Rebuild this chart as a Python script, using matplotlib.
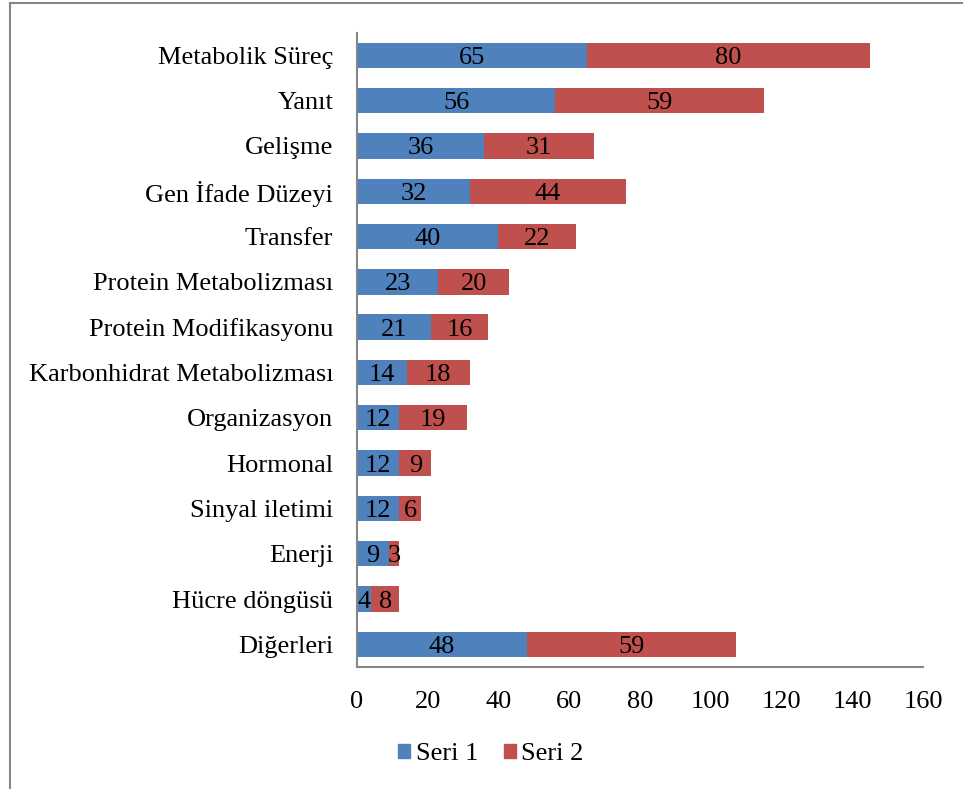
import matplotlib
matplotlib.use("Agg")
import matplotlib.pyplot as plt
from matplotlib.lines import Line2D
from matplotlib.patches import Patch
import numpy as np

plt.rcParams["font.family"] = ["Liberation Serif", "DejaVu Serif"]

categories = [
    "Metabolik Süreç", "Yanıt", "Gelişme", "Gen İfade Düzeyi", "Transfer",
    "Protein Metabolizması", "Protein Modifikasyonu",
    "Karbonhidrat Metabolizması", "Organizasyon", "Hormonal",
    "Sinyal iletimi", "Enerji", "Hücre döngüsü", "Diğerleri",
]
seri1 = [65, 56, 36, 32, 40, 23, 21, 14, 12, 12, 12, 9, 4, 48]
seri2 = [80, 59, 31, 44, 22, 20, 16, 18, 19, 9, 6, 3, 8, 59]
series_names = ["Seri 1", "Seri 2"]
xticks = [0, 20, 40, 60, 80, 100, 120, 140, 160]

BLUE = "#4F81BD"
RED = "#C0504D"
GRAY = "#868686"
FS = 19

fig = plt.figure(figsize=(9.63, 7.89), dpi=100)
ax = fig.add_axes([0.3707, 0.1546, 0.5878, 0.804])

y = np.arange(len(categories))
s1 = np.array(seri1)
s2 = np.array(seri2)
h = 0.56
ax.barh(y, s1, height=h, color=BLUE, edgecolor="none")
ax.barh(y, s2, left=s1, height=h, color=RED, edgecolor="none")

# value labels centred in each segment
for yi, a, b in zip(y, s1, s2):
    ax.text(a / 2, yi, str(a), ha="center", va="center_baseline",
            fontsize=FS, color="black")
    ax.text(a + b / 2, yi, str(b), ha="center", va="center_baseline",
            fontsize=FS, color="black")

ax.set_ylim(len(categories) - 0.5, -0.5)
ax.set_xlim(0, 160)
ax.set_yticks(y)
ax.set_yticklabels(categories, fontsize=FS)
ax.set_xticks(xticks)
ax.set_xticklabels([str(t) for t in xticks], fontsize=FS)
ax.tick_params(axis="both", length=0)
ax.tick_params(axis="y", pad=17)
ax.tick_params(axis="x", pad=17)
for side in ("top", "right"):
    ax.spines[side].set_visible(False)
for side in ("left", "bottom"):
    ax.spines[side].set_color(GRAY)
    ax.spines[side].set_linewidth(1.5)

handles = [Patch(color=BLUE), Patch(color=RED)]
fig.legend(handles, series_names, loc="center", bbox_to_anchor=(0.51, 0.044),
           ncol=2, frameon=False, fontsize=FS, handlelength=0.45,
           handleheight=0.45, handletextpad=0.2, columnspacing=1.0)

# outer frame (left and top edges only)
fig.add_artist(Line2D([9.5 / 963, 9.5 / 963], [0, 1 - 3 / 789],
                      transform=fig.transFigure, color=GRAY, lw=1.5))
fig.add_artist(Line2D([9.5 / 963, 1], [1 - 3 / 789, 1 - 3 / 789],
                      transform=fig.transFigure, color=GRAY, lw=1.5))

fig.savefig("out.png", dpi=100)
